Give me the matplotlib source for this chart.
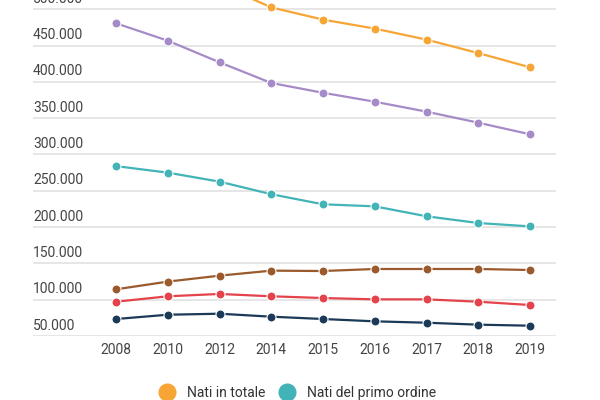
import matplotlib.pyplot as plt
from matplotlib.lines import Line2D
from matplotlib.transforms import blended_transform_factory

plt.rcParams['font.family'] = ['Roboto', 'DejaVu Sans']

# births in Italy by year
years = ['2008', '2010', '2012', '2014', '2015', '2016', '2017', '2018', '2019']
nati_totale = [576700, 561900, 534200, 502600, 485800, 473400, 458200, 439700, 420100]
nati_genitori_italiani = [480700, 456800, 427000, 398500, 385000, 372700, 359000, 343800, 327800]
nati_primo_ordine = [284000, 275000, 262600, 245300, 231400, 228600, 214900, 205600, 201000]
serie_marrone = [114300, 124900, 133100, 140000, 139500, 142300, 142300, 142300, 140900]
serie_rossa = [97200, 104700, 107900, 104700, 102300, 100500, 100500, 97200, 92700]
serie_blu = [73400, 79300, 80700, 76600, 73400, 70200, 68300, 65600, 64200]

y_ticks = [50000, 100000, 150000, 200000, 250000, 300000, 350000, 400000, 450000, 500000]

series = [
    (nati_totale, '#f7a535'),
    (nati_genitori_italiani, '#a58bc8'),
    (nati_primo_ordine, '#42b4b8'),
    (serie_marrone, '#9a5a2c'),
    (serie_rossa, '#e4434b'),
    (serie_blu, '#1b3a57'),
]

fig = plt.figure(figsize=(6, 4), dpi=100)
ax = fig.add_axes([33 / 600, 1 - 336 / 400, 523 / 600, 336 / 400])

x = list(range(len(years)))
for vals, col in series:
    ax.plot(x, vals, color=col, lw=1.6, marker='o', markersize=6.5,
            markeredgecolor='white', markeredgewidth=0.8, zorder=3)

ax.set_xlim(-1.604, 8.502)
ax.set_ylim(50000, 512800)

for v in y_ticks:
    ax.axhline(v, color='#e2e2e2', lw=1.2, zorder=1)

trans = blended_transform_factory(ax.transAxes, ax.transData)
for v in y_ticks:
    lab = f'{v:,}'.replace(',', '.')
    ax.annotate(lab, xy=(0, v), xycoords=trans, xytext=(0, 2.5),
                textcoords='offset points', ha='left', va='bottom',
                fontsize=10, color='#444444', annotation_clip=False)

ax.set_xticks(x)
ax.set_xticklabels(years, fontsize=10, color='#444444')
ax.tick_params(axis='x', length=0, pad=5)
ax.set_yticks([])
for s in ax.spines.values():
    s.set_visible(False)

handles = [
    Line2D([], [], ls='none', marker='o', markersize=12, color='#f7a535', label='Nati in totale'),
    Line2D([], [], ls='none', marker='o', markersize=12, color='#42b4b8', label='Nati del primo ordine'),
]
fig.legend(handles=handles, loc='center', bbox_to_anchor=(294.5 / 600, 1 - 393 / 400),
           ncol=2, frameon=False, fontsize=10, handletextpad=0.4, columnspacing=0.6,
           labelcolor='#333333')

fig.savefig('out.png', dpi=100)
